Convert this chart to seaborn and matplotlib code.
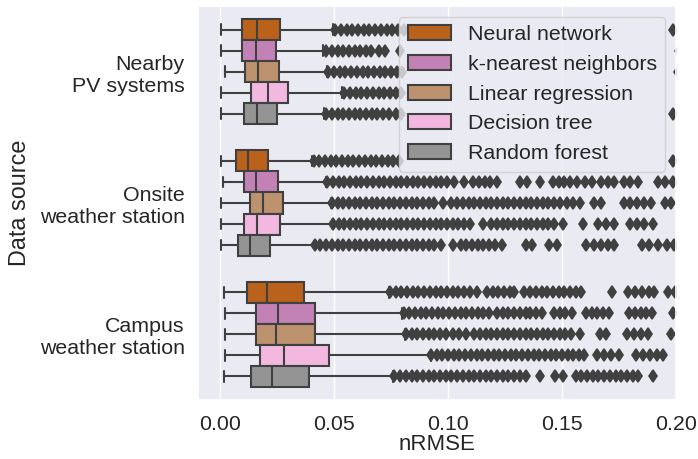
import matplotlib
matplotlib.use("Agg")
import matplotlib.pyplot as plt
from matplotlib.patches import Patch
import seaborn as sns

# Categories and models
sources = ["Nearby\nPV systems", "Onsite\nweather station", "Campus\nweather station"]
models = ["Neural network", "k-nearest neighbors", "Linear regression",
          "Decision tree", "Random forest"]

# Box statistics per data source (rows) and model (columns)
whisker_low = [
    [0.0005, 0.0005, 0.0022, 0.0005, 0.0005],
    [0.0005, 0.0012, 0.0005, 0.0005, 0.0005],
    [0.0015, 0.0020, 0.0020, 0.0020, 0.0015],
]
quartile_1 = [
    [0.0098, 0.0098, 0.0110, 0.0135, 0.0103],
    [0.0070, 0.0103, 0.0129, 0.0103, 0.0080],
    [0.0117, 0.0157, 0.0157, 0.0176, 0.0136],
]
median = [
    [0.0161, 0.0157, 0.0168, 0.0208, 0.0161],
    [0.0122, 0.0157, 0.0190, 0.0164, 0.0132],
    [0.0205, 0.0252, 0.0246, 0.0281, 0.0227],
]
quartile_3 = [
    [0.0264, 0.0246, 0.0259, 0.0300, 0.0249],
    [0.0210, 0.0254, 0.0275, 0.0264, 0.0220],
    [0.0370, 0.0415, 0.0418, 0.0476, 0.0390],
]
whisker_high = [
    [0.0497, 0.0453, 0.0469, 0.0535, 0.0457],
    [0.0403, 0.0466, 0.0486, 0.0494, 0.0418],
    [0.0740, 0.0798, 0.0813, 0.0923, 0.0760],
]

# Outlying nRMSE values per model
nearby_outliers = [
    [0.0505, 0.053, 0.0555, 0.058, 0.0605, 0.063, 0.0655, 0.068, 0.0705, 0.073,
     0.0755, 0.078, 0.0805, 0.1985],
    [0.0465, 0.049, 0.0515, 0.054, 0.0565, 0.059, 0.0615, 0.064, 0.066, 0.0695,
     0.0725, 0.079, 0.2015],
    [0.0475, 0.050, 0.0525, 0.055, 0.0575, 0.060, 0.0625, 0.065, 0.0675, 0.070,
     0.0725, 0.075, 0.0775, 0.080, 0.201],
    [0.0545, 0.057, 0.0595, 0.062, 0.0645, 0.067, 0.0695, 0.072, 0.0745, 0.077,
     0.0795, 0.2025],
    [0.0465, 0.049, 0.0515, 0.054, 0.0565, 0.059, 0.0615, 0.064, 0.0665, 0.069,
     0.0715, 0.074, 0.077, 0.0795, 0.1985],
]
onsite_outliers = [
    [0.041, 0.0435, 0.046, 0.0485, 0.051, 0.0535, 0.056, 0.0585, 0.061, 0.0635,
     0.066, 0.0685, 0.071, 0.0735, 0.076, 0.0785, 0.1985],
    [0.047, 0.0495, 0.052, 0.0545, 0.057, 0.0595, 0.062, 0.0645, 0.067, 0.0695,
     0.072, 0.0745, 0.077, 0.0795, 0.082, 0.0845, 0.087, 0.0895, 0.092, 0.0945,
     0.097, 0.0995, 0.1025, 0.107, 0.111, 0.1135, 0.116, 0.1185, 0.1215, 0.1315,
     0.1345, 0.1405, 0.146, 0.1485, 0.151, 0.1535, 0.1565, 0.160, 0.163, 0.167,
     0.170, 0.173, 0.177, 0.180, 0.1835, 0.192, 0.195, 0.1985],
    [0.049, 0.0515, 0.054, 0.0565, 0.059, 0.0615, 0.064, 0.0665, 0.069, 0.0715,
     0.074, 0.0765, 0.079, 0.0815, 0.084, 0.0865, 0.089, 0.0915, 0.094, 0.098,
     0.1015, 0.104, 0.1065, 0.109, 0.1115, 0.114, 0.1165, 0.119, 0.1215, 0.124,
     0.1265, 0.129, 0.1315, 0.134, 0.1365, 0.139, 0.1415, 0.144, 0.1465, 0.149,
     0.152, 0.155, 0.158, 0.164, 0.167, 0.177, 0.180, 0.183, 0.186, 0.189,
     0.195, 0.198],
    [0.0495, 0.052, 0.0545, 0.057, 0.0595, 0.062, 0.0645, 0.067, 0.0695, 0.072,
     0.0745, 0.077, 0.0795, 0.082, 0.0845, 0.087, 0.0895, 0.092, 0.0945, 0.097,
     0.0995, 0.102, 0.1045, 0.107, 0.1095, 0.1155, 0.119, 0.1215, 0.124, 0.1265,
     0.129, 0.1315, 0.134, 0.1365, 0.139, 0.1415, 0.144, 0.1465, 0.1505, 0.159,
     0.166, 0.1695, 0.173, 0.180, 0.183, 0.186, 0.190],
    [0.0415, 0.044, 0.0465, 0.049, 0.0515, 0.054, 0.0565, 0.059, 0.0615, 0.064,
     0.0665, 0.069, 0.0715, 0.074, 0.0765, 0.079, 0.0815, 0.084, 0.0865, 0.089,
     0.0915, 0.094, 0.097, 0.102, 0.1055, 0.108, 0.1105, 0.113, 0.1155, 0.118,
     0.1205, 0.1235, 0.134, 0.137, 0.1445, 0.148, 0.1605, 0.164, 0.167, 0.170,
     0.173, 0.185, 0.188, 0.192, 0.196, 0.199],
]
campus_outliers = [
    [0.0745, 0.077, 0.0795, 0.082, 0.0845, 0.087, 0.0895, 0.092, 0.0945, 0.097,
     0.0995, 0.102, 0.1045, 0.107, 0.1095, 0.1125, 0.117, 0.1195, 0.122, 0.1245,
     0.127, 0.129, 0.1335, 0.136, 0.1385, 0.141, 0.1435, 0.146, 0.1485, 0.151,
     0.1535, 0.156, 0.1585, 0.172, 0.179, 0.182, 0.185, 0.188, 0.1905, 0.1965,
     0.1995],
    [0.0805, 0.083, 0.0855, 0.088, 0.0905, 0.093, 0.0955, 0.098, 0.1005, 0.103,
     0.1055, 0.108, 0.1105, 0.113, 0.1155, 0.118, 0.1215, 0.124, 0.1265, 0.129,
     0.1315, 0.134, 0.136, 0.1385, 0.141, 0.1465, 0.149, 0.1515, 0.1545, 0.1605,
     0.163, 0.1655, 0.168, 0.1705, 0.1795, 0.182, 0.1845, 0.187, 0.1895, 0.1985],
    [0.0815, 0.084, 0.0865, 0.089, 0.0915, 0.094, 0.0965, 0.099, 0.102, 0.105,
     0.108, 0.1115, 0.114, 0.1165, 0.119, 0.1215, 0.124, 0.1265, 0.129, 0.1315,
     0.134, 0.1365, 0.139, 0.1415, 0.144, 0.1465, 0.149, 0.1515, 0.154, 0.158,
     0.1665, 0.1695, 0.1785, 0.1815, 0.1845, 0.1875, 0.198],
    [0.0925, 0.095, 0.0975, 0.100, 0.1025, 0.105, 0.1075, 0.110, 0.1125, 0.115,
     0.1175, 0.120, 0.1225, 0.125, 0.1275, 0.130, 0.1325, 0.135, 0.1375, 0.140,
     0.1425, 0.145, 0.1475, 0.150, 0.1525, 0.155, 0.1575, 0.1595, 0.1655, 0.1685,
     0.1715, 0.175, 0.1825, 0.1855, 0.1885, 0.1915, 0.1945],
    [0.0765, 0.079, 0.0815, 0.084, 0.0865, 0.089, 0.0915, 0.094, 0.0965, 0.099,
     0.1015, 0.104, 0.1065, 0.109, 0.1115, 0.114, 0.1165, 0.119, 0.1215, 0.124,
     0.1265, 0.129, 0.1315, 0.134, 0.1405, 0.147, 0.1505, 0.156, 0.1585, 0.161,
     0.1635, 0.166, 0.1685, 0.171, 0.1735, 0.176, 0.1785, 0.181, 0.1835, 0.190],
]
outliers = [nearby_outliers, onsite_outliers, campus_outliers]

x_ticks = [0.00, 0.05, 0.10, 0.15, 0.20]

sns.set_theme(context="notebook", style="darkgrid", font_scale=1.4)
plt.rcParams["font.family"] = ["Liberation Sans", "DejaVu Sans"]

palette = [sns.desaturate(c, 0.75) for c in sns.color_palette("colorblind")[3:8]]
gray = "#404040"
line_kw = dict(color=gray, linewidth=1.5)

fig = plt.figure(figsize=(6.98, 4.59), dpi=100)
ax = fig.add_axes([198 / 698, 1 - 400 / 459, 478 / 698, 394 / 459])

n_models = len(models)
box_w = 0.8 / n_models
for i in range(len(sources)):
    stats, positions = [], []
    for j in range(n_models):
        stats.append(dict(whislo=whisker_low[i][j], q1=quartile_1[i][j],
                          med=median[i][j], q3=quartile_3[i][j],
                          whishi=whisker_high[i][j], fliers=outliers[i][j]))
        positions.append(i + (j - (n_models - 1) / 2) * box_w)
    art = ax.bxp(stats, positions=positions, widths=box_w,
                 orientation="horizontal", patch_artist=True, manage_ticks=False,
                 boxprops=dict(edgecolor=gray, linewidth=1.5),
                 whiskerprops=line_kw, capprops=line_kw, medianprops=line_kw,
                 flierprops=dict(marker="d", markersize=6.2, markeredgewidth=1.2,
                                 markerfacecolor=gray, markeredgecolor=gray,
                                 linestyle="none"))
    for patch, color in zip(art["boxes"], palette):
        patch.set_facecolor(color)

ax.set_ylim(len(sources) - 0.5, -0.5)
ax.set_yticks(range(len(sources)))
ax.set_yticklabels(sources)
ax.yaxis.grid(False)
ax.set_xlim(-0.0097, 0.2)
ax.set_xticks(x_ticks)
ax.set_xticklabels([f"{t:.2f}" for t in x_ticks])
ax.tick_params(axis="x", pad=5)
ax.set_xlabel("nRMSE", labelpad=0, fontsize=16)
ax.set_ylabel("Data source", labelpad=6)

handles = [Patch(facecolor=c, edgecolor=gray, linewidth=1.5, label=m)
           for c, m in zip(palette, models)]
ax.legend(handles=handles, loc="upper right")

fig.savefig("out.png", dpi=100)
